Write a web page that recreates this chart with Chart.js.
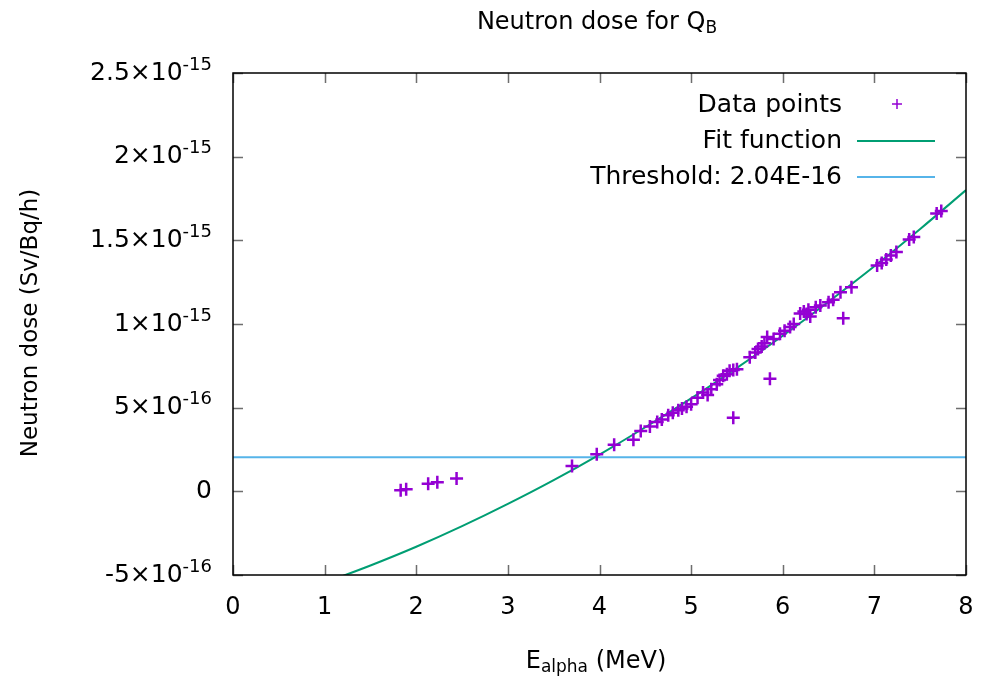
<!DOCTYPE html>
<html>
<head>
<meta charset="utf-8">
<script src="https://cdn.jsdelivr.net/npm/chart.js@4.4.1/dist/chart.umd.min.js"></script>
<style>
  html, body { margin: 0; padding: 0; background: #fff; }
  #wrap { width: 984px; height: 689px; }
</style>
</head>
<body>
<div id="wrap"><canvas id="dose-chart" width="984" height="689"></canvas></div>
<script>
// measured points, E_alpha in MeV, dose in units of 1e-16 Sv/Bq/h
const eAlpha = [1.83, 1.89, 2.13, 2.23, 2.44, 3.70, 3.97, 4.16, 4.37, 4.45,
    4.55, 4.63, 4.68, 4.75, 4.80, 4.86, 4.90, 4.95, 5.00, 5.07,
    5.13, 5.18, 5.22, 5.28, 5.31, 5.35, 5.39, 5.42, 5.46, 5.46,
    5.50, 5.64, 5.70, 5.73, 5.77, 5.80, 5.83, 5.86, 5.90, 5.97,
    6.02, 6.08, 6.12, 6.19, 6.23, 6.26, 6.28, 6.30, 6.36, 6.41,
    6.50, 6.55, 6.63, 6.66, 6.75, 7.03, 7.08, 7.13, 7.18, 7.24,
    7.38, 7.43, 7.68, 7.73];
const doseE16 = [0.06, 0.12, 0.46, 0.54, 0.76, 1.51, 2.21, 2.79, 3.09, 3.60,
    3.88, 4.14, 4.30, 4.55, 4.70, 4.85, 4.95, 5.05, 5.20, 5.60,
    5.90, 5.75, 6.10, 6.40, 6.65, 6.90, 7.00, 7.20, 7.25, 4.40,
    7.30, 8.02, 8.30, 8.50, 8.65, 8.85, 9.22, 6.73, 9.10, 9.42,
    9.60, 9.82, 10.00, 10.63, 10.75, 10.60, 10.85, 10.45, 11.00, 11.11,
    11.30, 11.45, 11.90, 10.35, 12.20, 13.50, 13.65, 13.85, 14.10, 14.30,
    15.05, 15.20, 16.60, 16.75];

// fit curve
const fitX = [1.0, 1.5, 2.0, 2.5, 3.0, 3.5, 4.0, 4.5, 5.0, 5.5, 6.0, 6.5, 7.0, 7.5, 8.0];
const fitE16 = [-5.46, -4.43, -3.31, -2.08, -0.75, 0.67, 2.20, 3.83, 5.55, 7.38, 9.30, 11.33, 13.45, 15.68, 18.0];

const threshold = 2.04e-16;
const thresholdX = [0, 8];

const xTickValues = [0, 1, 2, 3, 4, 5, 6, 7, 8];
const yTickValues = [-5e-16, 0, 5e-16, 1e-15, 1.5e-15, 2e-15, 2.5e-15];
const yTickMantissa = ['-5', '0', '5', '1', '1.5', '2', '2.5'];
const yTickExponent = ['-16', '', '-16', '-15', '-15', '-15', '-15'];

const FONT = '"DejaVu Sans", Verdana, sans-serif';
const purple = '#9400d3';
const green = '#009e73';
const blue = '#56b4e9';

// text with a subscript part
function drawSubText(ctx, main, sub, x, y, size) {
    ctx.font = size + 'px ' + FONT;
    const w1 = ctx.measureText(main).width;
    ctx.font = Math.round(size * 0.72) + 'px ' + FONT;
    const w2 = ctx.measureText(sub.s).width;
    ctx.font = size + 'px ' + FONT;
    const w3 = ctx.measureText(sub.after).width;
    let left = x - (w1 + w2 + w3) / 2;
    ctx.textAlign = 'left';
    ctx.textBaseline = 'middle';
    ctx.fillText(main, left, y);
    ctx.font = Math.round(size * 0.72) + 'px ' + FONT;
    ctx.fillText(sub.s, left + w1, y + 6);
    ctx.font = size + 'px ' + FONT;
    ctx.fillText(sub.after, left + w1 + w2, y);
}

const gnuplotLook = {
    id: 'gnuplotLook',
    beforeDatasetsDraw(chart) {
        const { ctx, chartArea: { left, right, top, bottom }, scales: { x, y } } = chart;
        ctx.save();
        ctx.strokeStyle = '#6e6e6e';
        ctx.lineWidth = 1.5;
        ctx.beginPath();
        xTickValues.forEach(v => {
            const px = Math.round(x.getPixelForValue(v)) + 0.5;
            ctx.moveTo(px, bottom); ctx.lineTo(px, bottom - 10);
            ctx.moveTo(px, top); ctx.lineTo(px, top + 10);
        });
        yTickValues.forEach(v => {
            const py = Math.round(y.getPixelForValue(v)) + 0.5;
            ctx.moveTo(left, py); ctx.lineTo(left + 10, py);
            ctx.moveTo(right, py); ctx.lineTo(right - 10, py);
        });
        ctx.stroke();
        ctx.restore();
    },
    afterDraw(chart) {
        const { ctx, chartArea: { left, right, top, bottom }, scales: { y } } = chart;
        ctx.save();
        // frame
        ctx.strokeStyle = '#000';
        ctx.lineWidth = 1.5;
        ctx.strokeRect(left, top, right - left, bottom - top);

        ctx.fillStyle = '#000';
        // y tick labels with superscript exponent
        yTickValues.forEach((v, i) => {
            const py = y.getPixelForValue(v);
            const xr = left - 21;
            const exp = yTickExponent[i];
            ctx.textBaseline = 'middle';
            if (exp) {
                ctx.font = '18px ' + FONT;
                const ew = ctx.measureText(exp).width;
                ctx.textAlign = 'left';
                ctx.fillText(exp, xr - ew, py - 8);
                ctx.font = '25px ' + FONT;
                ctx.textAlign = 'right';
                ctx.fillText(yTickMantissa[i] + '\u00d710', xr - ew, py);
            } else {
                ctx.font = '25px ' + FONT;
                ctx.textAlign = 'right';
                ctx.fillText(yTickMantissa[i], xr, py);
            }
        });

        // titles
        drawSubText(ctx, 'Neutron dose for Q', { s: 'B', after: '' }, 597, 23, 24);
        drawSubText(ctx, 'E', { s: 'alpha', after: ' (MeV)' }, 596, 662, 24);
        ctx.save();
        ctx.translate(31, 323);
        ctx.rotate(-Math.PI / 2);
        ctx.font = '23px ' + FONT;
        ctx.textAlign = 'center';
        ctx.textBaseline = 'middle';
        ctx.fillText('Neutron dose (Sv/Bq/h)', 0, 0);
        ctx.restore();

        // key, gnuplot style: text right, sample on the right
        const rows = [105, 141, 177];
        ctx.font = '25px ' + FONT;
        ctx.textAlign = 'right';
        ctx.textBaseline = 'middle';
        chart.data.datasets.forEach((ds, i) => {
            ctx.fillStyle = '#000';
            ctx.fillText(ds.label, 842, rows[i]);
            if (ds.type === 'scatter') {
                ctx.strokeStyle = ds.borderColor;
                ctx.lineWidth = 1.5;
                ctx.beginPath();
                ctx.moveTo(892, rows[i] - 1); ctx.lineTo(902, rows[i] - 1);
                ctx.moveTo(897, rows[i] - 6); ctx.lineTo(897, rows[i] + 4);
                ctx.stroke();
            } else {
                ctx.strokeStyle = ds.borderColor;
                ctx.lineWidth = 2;
                ctx.beginPath();
                ctx.moveTo(857, rows[i]); ctx.lineTo(935, rows[i]);
                ctx.stroke();
            }
        });
        ctx.restore();
    }
};

const ctx = document.getElementById('dose-chart').getContext('2d');

const doseChart = new Chart(ctx, {
    data: {
        datasets: [{
            type: 'scatter',
            label: 'Data points',
            data: eAlpha.map((e, i) => ({ x: e, y: doseE16[i] * 1e-16 })),
            pointStyle: 'cross',
            pointRadius: 6.5,
            borderWidth: 2.5,
            borderColor: purple,
            backgroundColor: purple,
            order: 1
        }, {
            type: 'line',
            label: 'Fit function',
            data: fitX.map((e, i) => ({ x: e, y: fitE16[i] * 1e-16 })),
            borderColor: green,
            borderWidth: 2,
            pointRadius: 0,
            cubicInterpolationMode: 'monotone',
            fill: false,
            order: 2
        }, {
            type: 'line',
            label: 'Threshold: 2.04E-16',
            data: thresholdX.map(e => ({ x: e, y: threshold })),
            borderColor: blue,
            borderWidth: 2,
            pointRadius: 0,
            fill: false,
            order: 3
        }]
    },
    options: {
        responsive: false,
        animation: false,
        devicePixelRatio: 1,
        layout: {
            padding: { left: 0, right: 18, top: 73, bottom: 0 }
        },
        scales: {
            x: {
                type: 'linear',
                min: 0,
                max: 8,
                afterFit: s => { s.height = 114; s.paddingLeft = 0; s.paddingRight = 0; },
                afterBuildTicks: s => { s.ticks = xTickValues.map(v => ({ value: v })); },
                grid: { display: false, drawTicks: false },
                border: { display: false },
                ticks: {
                    color: '#000',
                    padding: 18,
                    font: { family: FONT, size: 24 }
                }
            },
            y: {
                type: 'linear',
                min: -5e-16,
                max: 2.5e-15,
                afterFit: s => { s.width = 233; s.paddingTop = 0; s.paddingBottom = 0; },
                afterBuildTicks: s => { s.ticks = yTickValues.map(v => ({ value: v })); },
                grid: { display: false, drawTicks: false },
                border: { display: false },
                ticks: { display: false }
            }
        },
        plugins: {
            legend: { display: false },
            title: { display: false },
            tooltip: { enabled: false }
        }
    },
    plugins: [gnuplotLook]
});
</script>
</body>
</html>
